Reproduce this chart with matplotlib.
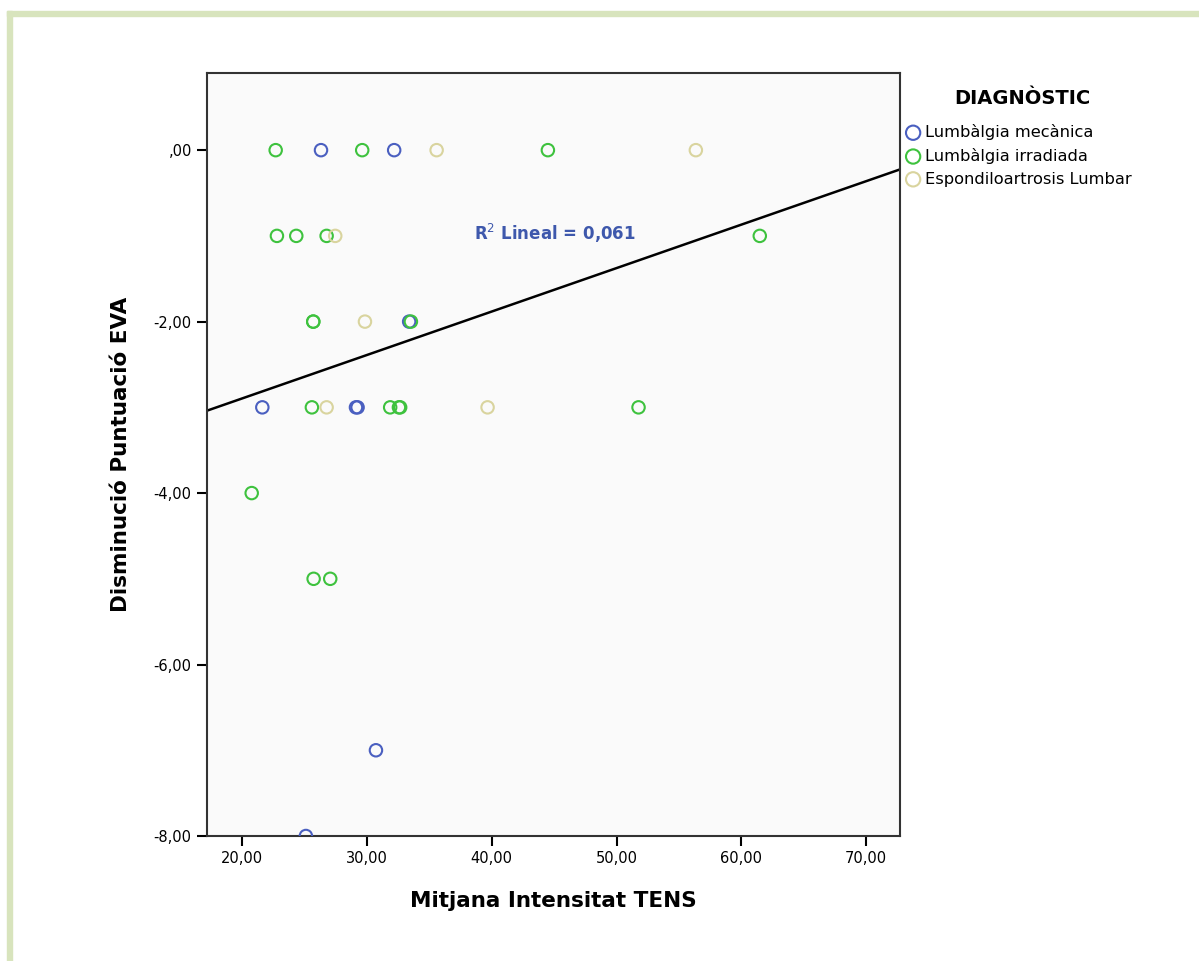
import numpy as np
import matplotlib.pyplot as plt
from matplotlib.patches import Rectangle
from matplotlib.ticker import FuncFormatter

# Mitjana Intensitat TENS (x) i Disminució Puntuació EVA (y) per diagnòstic
mec_x = [26.33, 32.19, 33.39, 21.63, 29.13, 29.26, 30.73, 25.12]
mec_y = [0, 0, -2, -3, -3, -3, -7, -8]

irr_x = [22.70, 29.63, 44.50, 22.80, 24.35, 26.78, 61.47, 25.71, 25.71, 33.53,
         25.60, 31.87, 32.57, 32.67, 51.76, 20.78, 25.74, 27.07]
irr_y = [0, 0, 0, -1, -1, -1, -1, -2, -2, -2,
         -3, -3, -3, -3, -3, -4, -5, -5]

esp_x = [35.59, 56.35, 27.47, 29.85, 26.78, 39.67]
esp_y = [0, 0, -1, -2, -3, -3]

groups = ["Lumbàlgia mecànica", "Lumbàlgia irradiada", "Espondiloartrosis Lumbar"]
colors = ["#4a5fc0", "#3ec23e", "#d9d49e"]

x_ticks = [20, 30, 40, 50, 60, 70]
y_ticks = [0, -2, -4, -6, -8]


def fmt(v, pos):
    s = f"{v:.2f}".replace(".", ",")
    return s[1:] if s.startswith("0") else s


fig = plt.figure(figsize=(11.99, 9.61), dpi=100)
fig.patch.set_facecolor("white")

# marc verd clar (només esquerra i dalt, la captura està retallada)
fig.patches.append(Rectangle((7 / 1199, 0), 5 / 1199, 1 - 11 / 961, transform=fig.transFigure,
                             color="#d8e4bd", zorder=0))
fig.patches.append(Rectangle((7 / 1199, 1 - 16 / 961), 1 - 7 / 1199, 5 / 961, transform=fig.transFigure,
                             color="#d8e4bd", zorder=0))

ax = fig.add_axes([207 / 1199, 1 - 836 / 961, 693 / 1199, 763 / 961])
ax.set_facecolor("#fafafa")

for xs, ys, lab, c in zip([mec_x, irr_x, esp_x], [mec_y, irr_y, esp_y], groups, colors):
    ax.scatter(xs, ys, s=80, facecolors="none", edgecolors=c, linewidths=1.5,
               label=lab, zorder=3, clip_on=True)

# recta de regressió
all_x = np.array(mec_x + irr_x + esp_x)
all_y = np.array(mec_y + irr_y + esp_y)
slope, intercept = np.polyfit(all_x, all_y, 1)

ax.set_xlim(17.2, 72.7)
ax.set_ylim(-8, 0.9)
xx = np.array(ax.get_xlim())
ax.plot(xx, intercept + slope * xx, color="black", lw=1.8, zorder=2)

ax.text(45.1, -0.97, r"R$^2$ Lineal = 0,061", color="#3e58ac", fontsize=12,
        fontweight="bold", ha="center", va="center")

ax.set_xticks(x_ticks)
ax.set_yticks(y_ticks)
ax.xaxis.set_major_formatter(FuncFormatter(fmt))
ax.yaxis.set_major_formatter(FuncFormatter(fmt))
ax.tick_params(direction="out", length=7, width=1.5, labelsize=10.5, colors="black", pad=4)
for sp in ax.spines.values():
    sp.set_linewidth(1.5)
    sp.set_color("#333333")

ax.set_xlabel("Mitjana Intensitat TENS", fontsize=15.5, fontweight="bold", labelpad=18)
ax.set_ylabel("Disminució Puntuació EVA", fontsize=15.5, fontweight="bold", labelpad=16)

fig.text(1022 / 1199, 1 - 98 / 961, "DIAGNÒSTIC", fontsize=14, fontweight="bold",
         ha="center", va="center")
leg = fig.legend(loc="upper left", bbox_to_anchor=(905 / 1199, 1 - 124 / 961), frameon=False,
                 fontsize=11.7, handletextpad=0.25, borderaxespad=0, borderpad=0,
                 handlelength=1.0, labelspacing=0.48, markerscale=1.15)

fig.savefig("out.png", dpi=100)
